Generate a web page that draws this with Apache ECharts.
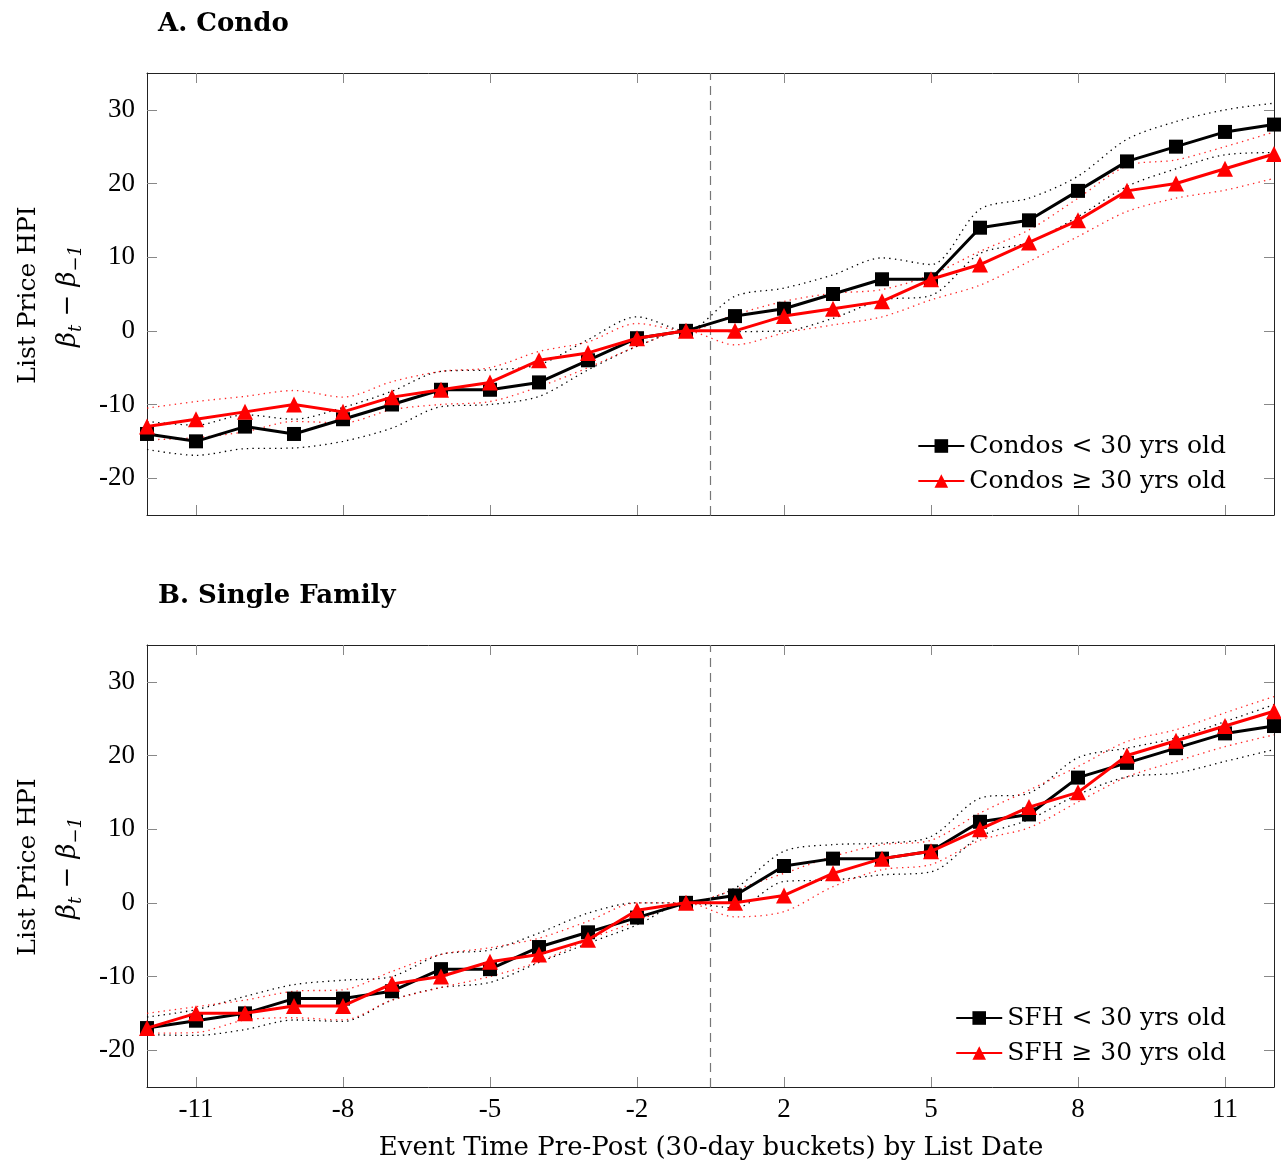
<!DOCTYPE html>
<html>
<head>
<meta charset="utf-8">
<script src="https://cdn.jsdelivr.net/npm/echarts@6/dist/echarts.min.js"></script>
<style>
html,body{margin:0;padding:0;background:#fff;}
#chart{width:1281px;height:1165px;}
</style>
</head>
<body>
<div id="chart"></div>
<script>
// Event-time categories (no 0 bucket)
const categories = ['-12','-11','-10','-9','-8','-7','-6','-5','-4','-3','-2','-1','1','2','3','4','5','6','7','8','9','10','11','12'];
const tickLabelsShown = ['-11','-8','-5','-2','2','5','8','11'];

// Panel A: Condo
const condoYoung   = [-14,-15,-13,-14,-12,-10,-8,-8,-7,-4,-1,0, 2,3,5,7,7,14,15,19,23,25,27,28];
const condoYoungHi = [-12.3,-12.8,-11.4,-12,-10.4,-8.2,-5.5,-5.3,-4.6,-1.2,1.9,0, 4.7,5.8,7.6,9.9,9.0,16.5,18,21,26,28.4,30,30.9];
const condoYoungLo = [-16.1,-16.9,-16,-15.9,-15,-13.2,-10.3,-10,-8.9,-5.3,-2.1,0, -0.1,0,1.7,4.2,4.8,10.5,12,15.5,19.6,22,23.9,24.2];
const condoOld     = [-13,-12,-11,-10,-11,-9,-8,-7,-4,-3,-1,0, 0,2,3,4,7,9,12,15,19,20,22,24];
const condoOldHi   = [-10.5,-9.6,-8.9,-8.1,-9,-6.9,-5.5,-5,-2.8,-1.5,1,0, 2.2,4,5.1,5.6,7.6,10.8,13.7,18,22.4,23.2,25,27];
const condoOldLo   = [-14.8,-14.5,-13.7,-12.3,-12.5,-10.7,-10,-9.6,-7.6,-5,-2.1,0, -1.9,-0.3,0.8,1.9,4.2,6.2,9.4,12.8,16.2,18,19.1,20.7];

// Panel B: Single Family
const sfhYoung   = [-17,-16,-15,-13,-13,-12,-9,-9,-6,-4,-2,0, 1,5,6,6,7,11,12,17,19,21,23,24];
const sfhYoungHi = [-15.5,-14.5,-12.7,-11.1,-10.5,-10,-7,-6.4,-4.1,-1.4,0,0, 2,7,7.9,8.1,9,14.2,14.9,19.7,21,22.4,24.6,26.9];
const sfhYoungLo = [-17.9,-18,-17.2,-15.9,-16.1,-13.2,-11.5,-10.8,-8.1,-5.5,-3,0, -0.7,2.9,3.1,3.8,4.2,9,11.3,14.7,17.1,17.6,19.2,20.8];
const sfhOld     = [-17,-15,-15,-14,-14,-11,-10,-8,-7,-5,-1,0, 0,1,4,6,7,10,13,15,20,22,24,26];
const sfhOldHi   = [-15,-14.1,-13.2,-12,-11.8,-9.3,-7,-6.1,-4.8,-2.5,0,0, 1.8,4,6.3,7.9,8.5,12.2,15.3,18.5,21.9,23.5,25.8,28];
const sfhOldLo   = [-17.7,-17.6,-15.9,-15.6,-15.9,-13.2,-11.5,-10,-8,-5,-2.5,0, -1.9,-1.2,2.2,4.5,5.2,8.5,10.2,13.7,17.1,19.2,21.2,22.8];

const yTicks = [-20,-10,0,10,20,30];
const Y_MIN = -25, Y_MAX = 35;
const EVENT_DIVIDER = 11.5; // between "-1" and "1" buckets (category index)

const panels = [
  {title:'A. Condo', young:'Condos < 30 yrs old', old:'Condos \u2265 30 yrs old',
   y:condoYoung, yHi:condoYoungHi, yLo:condoYoungLo, o:condoOld, oHi:condoOldHi, oLo:condoOldLo},
  {title:'B. Single Family', young:'SFH < 30 yrs old', old:'SFH \u2265 30 yrs old',
   y:sfhYoung, yHi:sfhYoungHi, yLo:sfhYoungLo, o:sfhOld, oHi:sfhOldHi, oLo:sfhOldLo}
];

const NUMFONT = "'Liberation Serif', serif";
const TXTFONT = "'DejaVu Serif', serif";
const gridTops = [73, 645];
const GRID_H = 442;

const grid = [], xAxis = [], yAxis = [], series = [], legend = [], graphic = [];
const tickIdx = i => tickLabelsShown.indexOf(categories[i]) >= 0;

panels.forEach((p, g) => {
  grid.push({left:147, top:gridTops[g], width:1127, height:GRID_H, show:false});
  const base = 3*g;
  xAxis.push({
    type:'category', gridIndex:g, data:categories, boundaryGap:false, position:'bottom',
    axisLine:{show:true, onZero:false, lineStyle:{color:'#222', width:1}},
    axisTick:{show:true, inside:true, length:10, interval:(i)=>tickIdx(i), lineStyle:{color:'#888'}},
    axisLabel:{show:g===1, interval:(i)=>tickIdx(i), color:'#000', fontSize:27, fontFamily:NUMFONT, margin:9},
    splitLine:{show:false}
  });
  xAxis.push({
    type:'category', gridIndex:g, data:categories, boundaryGap:false, position:'top',
    axisLine:{show:true, onZero:false, lineStyle:{color:'#222', width:1}},
    axisTick:{show:true, inside:true, length:10, interval:(i)=>tickIdx(i), lineStyle:{color:'#888'}},
    axisLabel:{show:false}, splitLine:{show:false}
  });
  xAxis.push({type:'value', gridIndex:g, min:0, max:categories.length-1, show:false});

  yAxis.push({
    type:'value', gridIndex:g, min:Y_MIN, max:Y_MAX, position:'left',
    axisLine:{show:true, onZero:false, lineStyle:{color:'#222', width:1}},
    axisTick:{show:true, inside:true, length:10, customValues:yTicks, lineStyle:{color:'#888'}},
    axisLabel:{color:'#000', fontSize:27, fontFamily:NUMFONT, margin:12, customValues:yTicks},
    splitLine:{show:false}
  });
  yAxis.push({
    type:'value', gridIndex:g, min:Y_MIN, max:Y_MAX, position:'right',
    axisLine:{show:true, onZero:false, lineStyle:{color:'#222', width:1}},
    axisTick:{show:true, inside:true, length:10, customValues:yTicks, lineStyle:{color:'#888'}},
    axisLabel:{show:false}, splitLine:{show:false}
  });

  const xi = base, yi = 2*g;
  const band = (data, color) => ({
    type:'line', xAxisIndex:xi, yAxisIndex:yi, data, smooth:0.3, symbol:'none', silent:true,
    lineStyle:{color, width:1.3, type:[1.4,4.2]}, z:2
  });
  series.push(band(p.yHi, '#000'));
  series.push(band(p.yLo, '#000'));
  series.push(band(p.oHi, 'rgba(255,0,0,0.85)'));
  series.push(band(p.oLo, 'rgba(255,0,0,0.85)'));
  series.push({
    type:'line', xAxisIndex:base+2, yAxisIndex:yi, data:[], silent:true,
    markLine:{symbol:'none', silent:true, label:{show:false},
      lineStyle:{color:'#777', width:1.2, type:[9,6]}, data:[{xAxis:EVENT_DIVIDER}]}
  });
  series.push({
    name:p.young, type:'line', xAxisIndex:xi, yAxisIndex:yi, data:p.y,
    symbol:'rect', symbolSize:14, lineStyle:{color:'#000', width:3}, itemStyle:{color:'#000'}, z:4
  });
  series.push({
    name:p.old, type:'line', xAxisIndex:xi, yAxisIndex:yi, data:p.o,
    symbol:'triangle', symbolSize:16, lineStyle:{color:'#ff0000', width:3}, itemStyle:{color:'#ff0000'}, z:5
  });

  legend.push({
    data:[p.young, p.old], orient:'vertical', right:50, top:gridTops[g]+353,
    itemWidth:46, itemHeight:17, itemGap:5, align:'left',
    textStyle:{fontSize:25, fontFamily:TXTFONT, color:'#000', lineHeight:30},
    selectedMode:false
  });

  graphic.push({type:'text', left:158, top:gridTops[g]-62,
    style:{text:p.title, font:"bold 26px " + TXTFONT, fill:'#000'}});
  graphic.push({type:'text', x:28, y:gridTops[g]+222, rotation:Math.PI/2,
    style:{text:'List Price HPI', font:"25px " + TXTFONT, fill:'#000', textAlign:'center', textVerticalAlign:'middle'}});
  graphic.push({type:'text', x:68, y:gridTops[g]+223, rotation:Math.PI/2,
    style:{text:'{b|\u03b2}{s|t}{n| \u2212 }{b|\u03b2}{s|\u22121}', fill:'#000', textAlign:'center', textVerticalAlign:'middle',
      rich:{
        b:{fontFamily:TXTFONT, fontStyle:'italic', fontSize:26, lineHeight:34, verticalAlign:'middle'},
        n:{fontFamily:TXTFONT, fontSize:26, lineHeight:34, verticalAlign:'middle'},
        s:{fontFamily:TXTFONT, fontStyle:'italic', fontSize:18, lineHeight:18, verticalAlign:'bottom'}
      }}});
});

graphic.push({type:'text', x:711, y:1148,
  style:{text:'Event Time Pre-Post (30-day buckets) by List Date', font:"26px " + TXTFONT, fill:'#000',
    textAlign:'center', textVerticalAlign:'middle'}});

const chart = echarts.init(document.getElementById('chart'), null, {renderer:'canvas'});
chart.setOption({
  animation:false, backgroundColor:'#fff',
  grid, xAxis, yAxis, series, legend, graphic
});
</script>
</body>
</html>
